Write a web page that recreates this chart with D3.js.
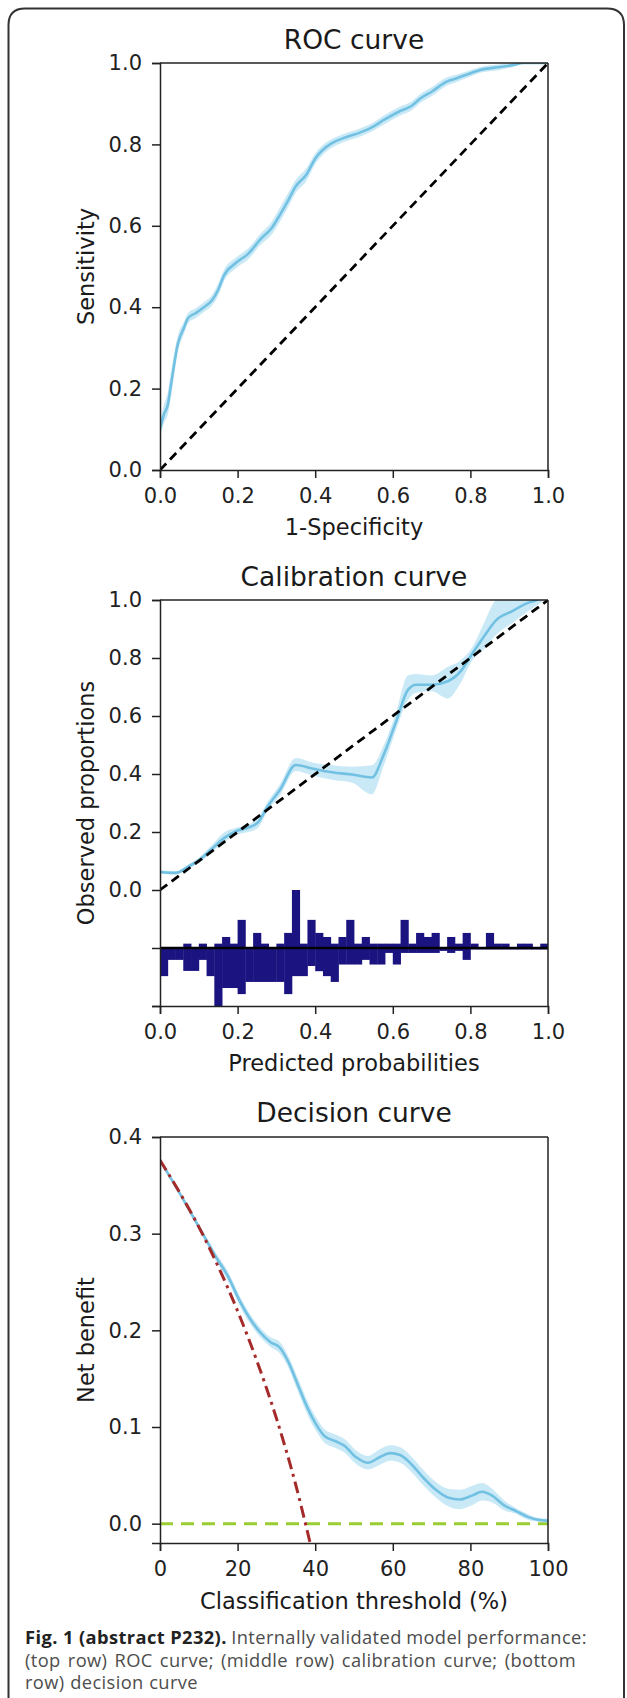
<!DOCTYPE html>
<html>
<head>
<meta charset="utf-8">
<script src="https://cdn.jsdelivr.net/npm/d3@7"></script>
<style>
  html, body { margin: 0; padding: 0; background: #fff; }
  svg { display: block; }
  .tick text { font-family: "DejaVu Sans", sans-serif; font-size: 21px; fill: #222; }
  .domain, .tick line { stroke: #222; stroke-width: 1.5; }
</style>
</head>
<body>
<svg id="chart" width="627" height="1698"></svg>
<script>
// ---------------- DATA ----------------
// ROC curve (1-Specificity vs Sensitivity)
const rocX  = [0,0.01,0.02,0.03,0.046,0.062,0.072,0.093,0.113,0.134,0.15,0.165,0.196,0.227,0.258,0.289,0.309,0.33,0.35,0.376,0.402,0.418,0.443,0.474,0.515,0.546,0.577,0.619,0.649,0.67,0.701,0.74,0.763,0.804,0.825,0.876,0.91,0.936,1.0];
const rocY  = [0.10,0.136,0.16,0.22,0.31,0.35,0.373,0.386,0.40,0.417,0.443,0.478,0.509,0.531,0.566,0.596,0.627,0.662,0.697,0.724,0.768,0.785,0.803,0.816,0.829,0.842,0.86,0.882,0.895,0.912,0.93,0.955,0.962,0.976,0.983,0.99,0.995,1.0,1.0];
const rocHi = [0.12,0.16,0.19,0.25,0.33,0.365,0.385,0.398,0.412,0.43,0.458,0.492,0.522,0.545,0.58,0.612,0.645,0.68,0.713,0.74,0.781,0.797,0.813,0.826,0.839,0.852,0.871,0.893,0.906,0.923,0.941,0.965,0.971,0.984,0.99,0.997,1.0,1.0,1.0];
const rocLo = [0.08,0.115,0.135,0.19,0.29,0.335,0.36,0.374,0.388,0.404,0.428,0.464,0.496,0.517,0.552,0.58,0.61,0.645,0.681,0.708,0.754,0.773,0.792,0.806,0.819,0.832,0.849,0.871,0.884,0.901,0.919,0.945,0.953,0.968,0.976,0.983,0.99,0.998,1.0];
const refX = [0, 1];
const refY = [0, 1];

// Calibration curve
const calX  = [0,0.041,0.072,0.103,0.134,0.165,0.196,0.227,0.253,0.278,0.309,0.35,0.392,0.443,0.495,0.546,0.577,0.608,0.639,0.66,0.70,0.742,0.773,0.804,0.835,0.866,0.907,0.948,0.97,1.0];
const calY  = [0.062,0.059,0.08,0.105,0.142,0.179,0.203,0.215,0.234,0.289,0.345,0.431,0.419,0.406,0.398,0.388,0.468,0.579,0.69,0.708,0.708,0.72,0.751,0.813,0.874,0.93,0.961,0.99,1.0,1.03];
const calHi = [0.068,0.065,0.088,0.115,0.155,0.198,0.215,0.225,0.25,0.305,0.365,0.455,0.44,0.43,0.425,0.43,0.5,0.61,0.74,0.745,0.74,0.77,0.79,0.835,0.92,1.0,1.02,1.03,1.04,1.06];
const calLo = [0.056,0.053,0.072,0.095,0.13,0.165,0.19,0.2,0.215,0.275,0.325,0.41,0.395,0.38,0.37,0.33,0.43,0.55,0.655,0.68,0.685,0.66,0.71,0.79,0.83,0.88,0.92,0.96,0.98,1.01];
// histogram of predicted probabilities (bin width 0.02), heights in axis units
const histBinWidth = 0.02;
const histUp   = [0,0,0,0.015,0,0.015,0,0.015,0.038,0.015,0.097,0,0.052,0.015,0,0.015,0.052,0.2,0.015,0.097,0.052,0.038,0.015,0.038,0.097,0.015,0.038,0.015,0.015,0.015,0.015,0.097,0.015,0.052,0.038,0.052,0,0.038,0.015,0.052,0.015,0,0.052,0.015,0.015,0,0.015,0.015,0,0.015];
const histDown = [0.097,0.041,0.041,0.079,0.079,0.041,0.097,0.2,0.138,0.138,0.159,0.117,0.117,0.117,0.117,0.117,0.159,0.097,0.097,0.062,0.08,0.097,0.117,0.057,0.057,0.057,0.041,0.057,0.057,0.017,0.057,0.017,0.017,0.017,0.017,0.017,0.01,0.017,0.01,0.041,0.005,0.005,0.005,0.005,0.005,0.005,0.005,0.005,0.005,0.005];
const histBase = -0.2;

// Decision curve (threshold %, net benefit)
const decX  = [0,5.2,10.3,14.4,17.5,20.6,23.2,25.8,28.4,30.9,33,35.6,38.1,40.2,42.3,45.4,47.4,50.5,53.6,56.7,59.3,61.9,64.9,68,71.1,74.2,77.3,80.4,83,85.6,88.7,91.8,94.8,97.4,100];
const decY  = [0.376,0.341,0.305,0.276,0.256,0.230,0.212,0.198,0.188,0.182,0.168,0.143,0.119,0.103,0.091,0.085,0.081,0.069,0.063,0.069,0.073,0.071,0.061,0.047,0.035,0.027,0.025,0.029,0.033,0.029,0.019,0.013,0.007,0.004,0.003];
const decHi = [0.377,0.343,0.308,0.28,0.261,0.235,0.217,0.203,0.193,0.188,0.174,0.15,0.126,0.11,0.098,0.092,0.088,0.076,0.07,0.077,0.081,0.079,0.069,0.055,0.043,0.036,0.035,0.039,0.042,0.036,0.024,0.016,0.01,0.006,0.005];
const decLo = [0.375,0.339,0.302,0.272,0.251,0.225,0.207,0.193,0.183,0.176,0.162,0.136,0.112,0.096,0.084,0.078,0.074,0.062,0.056,0.061,0.065,0.063,0.053,0.039,0.027,0.018,0.015,0.019,0.024,0.022,0.014,0.01,0.004,0.002,0.001];
const allX  = [0,5,10,15,20,25,30,35,37.5,39];
const allY  = [0.376,0.343,0.307,0.266,0.22,0.168,0.109,0.04,0,-0.025];
const noneX = [0, 100];
const noneY = [0, 0];

// Tick labels
const unitTicks = [0, 0.2, 0.4, 0.6, 0.8, 1.0];
const calYTicks = [-0.4, -0.2, 0, 0.2, 0.4, 0.6, 0.8, 1.0];
const decXTicks = [0, 20, 40, 60, 80, 100];
const decYTicks = [0, 0.1, 0.2, 0.3, 0.4];

// Texts
const titles = ["ROC curve", "Calibration curve", "Decision curve"];
const xLabels = ["1-Specificity", "Predicted probabilities", "Classification threshold (%)"];
const yLabels = ["Sensitivity", "Observed proportions", "Net benefit"];
const captionBold = "Fig. 1 (abstract P232).";
const captionLines = [
  "Internally validated model performance:",
  "(top row) ROC curve; (middle row) calibration curve; (bottom",
  "row) decision curve"
];

// ---------------- DRAWING ----------------
const svg = d3.select("#chart");
const LINE = "#72c1e3", BAND = "#87ceeb";
const AX_L = 160, AX_R = 548;
const FONT = "DejaVu Sans, sans-serif";

// frame (open at the bottom)
svg.append("path")
  .attr("d", "M8.5,1698 L8.5,25 Q8.5,8.5 25,8.5 L607,8.5 Q624,8.5 624,25 L624,1698")
  .attr("fill", "none").attr("stroke", "#333").attr("stroke-width", 2);

function zipPts(xs, ys) { return xs.map((x, i) => [x, ys[i]]); }

function panel(cfg) {
  const g = svg.append("g");
  const x = d3.scaleLinear().domain(cfg.xDomain).range([AX_L, AX_R]);
  const y = d3.scaleLinear().domain(cfg.yDomain).range([cfg.bottom, cfg.top]);
  const clipId = "clip" + cfg.id;
  svg.append("clipPath").attr("id", clipId).append("rect")
    .attr("x", AX_L).attr("y", cfg.top).attr("width", AX_R - AX_L).attr("height", cfg.bottom - cfg.top);
  const plot = g.append("g").attr("clip-path", `url(#${clipId})`);

  g.append("g").attr("transform", `translate(0,${cfg.bottom})`)
    .call(d3.axisBottom(x).tickValues(cfg.xTicks).tickFormat(cfg.xFmt).tickSize(8).tickPadding(10.5));
  g.append("g").attr("transform", `translate(${AX_L},0)`)
    .call(d3.axisLeft(y).tickValues(cfg.yTicks).tickFormat(cfg.yFmt).tickSize(8).tickPadding(10));
  g.append("line").attr("x1", AX_L).attr("x2", AX_R).attr("y1", cfg.top).attr("y2", cfg.top)
    .attr("stroke", "#222").attr("stroke-width", 1.5);
  g.append("line").attr("x1", AX_R).attr("x2", AX_R).attr("y1", cfg.top).attr("y2", cfg.bottom)
    .attr("stroke", "#222").attr("stroke-width", 1.5);

  g.append("text").attr("x", (AX_L + AX_R) / 2).attr("y", cfg.titleY)
    .attr("text-anchor", "middle").attr("font-family", FONT).attr("font-size", 26.5).attr("fill", "#1a1a1a")
    .text(cfg.title);
  g.append("text").attr("x", (AX_L + AX_R) / 2).attr("y", cfg.xLabelY)
    .attr("text-anchor", "middle").attr("font-family", FONT).attr("font-size", 22.5).attr("fill", "#1a1a1a")
    .text(cfg.xLabel);
  g.append("text").attr("transform", `translate(94,${(cfg.top + cfg.bottom) / 2}) rotate(-90)`)
    .attr("text-anchor", "middle").attr("font-family", FONT).attr("font-size", 22.5).attr("fill", "#1a1a1a")
    .text(cfg.yLabel);
  return { g, plot, x, y };
}

// ---- ROC ----
{
  const p = panel({ id: 1, xDomain: [0, 1], yDomain: [0, 1], top: 63, bottom: 470,
    xTicks: unitTicks, yTicks: unitTicks, xFmt: d3.format(".1f"), yFmt: d3.format(".1f"),
    title: titles[0], titleY: 49, xLabel: xLabels[0], xLabelY: 535, yLabel: yLabels[0] });
  const band = d3.area().x(d => p.x(d[0])).y0(d => p.y(d[1])).y1(d => p.y(d[2])).curve(d3.curveMonotoneX);
  p.plot.append("path").datum(rocX.map((v, i) => [v, rocLo[i], rocHi[i]]))
    .attr("d", band).attr("fill", BAND).attr("opacity", 0.45);
  p.plot.append("path").datum(zipPts(rocX, rocY))
    .attr("d", d3.line().x(d => p.x(d[0])).y(d => p.y(d[1])).curve(d3.curveMonotoneX))
    .attr("fill", "none").attr("stroke", LINE).attr("stroke-width", 2.6);
  p.plot.append("path").datum(zipPts(refX, refY))
    .attr("d", d3.line().x(d => p.x(d[0])).y(d => p.y(d[1])))
    .attr("fill", "none").attr("stroke", "#000").attr("stroke-width", 2.8).attr("stroke-dasharray", "9,5.5");
}

// ---- Calibration ----
{
  const p = panel({ id: 2, xDomain: [0, 1], yDomain: [-0.4, 1.0], top: 600, bottom: 1006,
    xTicks: unitTicks, yTicks: calYTicks, xFmt: d3.format(".1f"),
    yFmt: d => (d < 0 ? "" : d3.format(".1f")(d)),
    title: titles[1], titleY: 586, xLabel: xLabels[1], xLabelY: 1071, yLabel: yLabels[1] });
  const bars = histUp.map((h, i) => ({ x0: i * histBinWidth, up: h, down: histDown[i] }));
  p.plot.selectAll(".hu").data(bars).enter().append("rect")
    .attr("x", d => p.x(d.x0)).attr("width", d => p.x(d.x0 + histBinWidth) - p.x(d.x0) + 0.4)
    .attr("y", d => p.y(histBase + d.up)).attr("height", d => p.y(histBase) - p.y(histBase + d.up))
    .attr("fill", "#1b1480");
  p.plot.selectAll(".hd").data(bars).enter().append("rect")
    .attr("x", d => p.x(d.x0)).attr("width", d => p.x(d.x0 + histBinWidth) - p.x(d.x0) + 0.4)
    .attr("y", p.y(histBase)).attr("height", d => p.y(histBase - d.down) - p.y(histBase))
    .attr("fill", "#1b1480");
  p.plot.append("line").attr("x1", p.x(0)).attr("x2", p.x(1)).attr("y1", p.y(histBase)).attr("y2", p.y(histBase))
    .attr("stroke", "#000").attr("stroke-width", 2.6);
  const band = d3.area().x(d => p.x(d[0])).y0(d => p.y(d[1])).y1(d => p.y(d[2])).curve(d3.curveMonotoneX);
  p.plot.append("path").datum(calX.map((v, i) => [v, calLo[i], calHi[i]]))
    .attr("d", band).attr("fill", BAND).attr("opacity", 0.45);
  p.plot.append("path").datum(zipPts(calX, calY))
    .attr("d", d3.line().x(d => p.x(d[0])).y(d => p.y(d[1])).curve(d3.curveMonotoneX))
    .attr("fill", "none").attr("stroke", LINE).attr("stroke-width", 2.6);
  p.plot.append("path").datum(zipPts(refX, refY))
    .attr("d", d3.line().x(d => p.x(d[0])).y(d => p.y(d[1])))
    .attr("fill", "none").attr("stroke", "#000").attr("stroke-width", 2.8).attr("stroke-dasharray", "9,5.5");
}

// ---- Decision ----
{
  const p = panel({ id: 3, xDomain: [0, 100], yDomain: [-0.02, 0.4], top: 1137, bottom: 1543,
    xTicks: decXTicks, yTicks: decYTicks, xFmt: d3.format("d"), yFmt: d3.format(".1f"),
    title: titles[2], titleY: 1122, xLabelY: 1609, xLabel: xLabels[2], yLabel: yLabels[2] });
  const band = d3.area().x(d => p.x(d[0])).y0(d => p.y(d[1])).y1(d => p.y(d[2])).curve(d3.curveMonotoneX);
  p.plot.append("path").datum(zipPts(noneX, noneY))
    .attr("d", d3.line().x(d => p.x(d[0])).y(d => p.y(d[1])))
    .attr("fill", "none").attr("stroke", "#9acd32").attr("stroke-width", 3).attr("stroke-dasharray", "13,8");
  p.plot.append("path").datum(decX.map((v, i) => [v, decLo[i], decHi[i]]))
    .attr("d", band).attr("fill", BAND).attr("opacity", 0.45);
  p.plot.append("path").datum(zipPts(decX, decY))
    .attr("d", d3.line().x(d => p.x(d[0])).y(d => p.y(d[1])).curve(d3.curveMonotoneX))
    .attr("fill", "none").attr("stroke", LINE).attr("stroke-width", 2.6);
  p.plot.append("path").datum(zipPts(allX, allY))
    .attr("d", d3.line().x(d => p.x(d[0])).y(d => p.y(d[1])).curve(d3.curveMonotoneX))
    .attr("fill", "none").attr("stroke", "#a52a2a").attr("stroke-width", 3).attr("stroke-dasharray", "12,5,3,5");
}

// ---- Caption (justified) ----
{
  const CF = "'Open Sans', 'Noto Sans', sans-serif", CS = 18.3;
  const left = 25;
  const lineBase = [1644, 1666.5, 1689];
  const lineRight = [587, 576, null];
  const cap = svg.append("g").attr("font-family", CF).attr("font-size", CS).attr("letter-spacing", "0.4px");
  captionLines.forEach((ln, li) => {
    const segs = [];
    if (li === 0) segs.push({ t: captionBold, bold: true });
    ln.split(" ").forEach(w => segs.push({ t: w, bold: false }));
    const nodes = segs.map(s => cap.append("text").attr("y", lineBase[li])
      .attr("font-weight", s.bold ? 700 : 400).attr("fill", s.bold ? "#222" : "#4d4d4d").text(s.t));
    const widths = nodes.map(n => n.node().getBBox().width);
    const total = d3.sum(widths);
    const gap = lineRight[li] == null ? CS * 0.3 : Math.max(CS * 0.22, (lineRight[li] - left - total) / (segs.length - 1));
    let xx = left;
    nodes.forEach((n, i) => { n.attr("x", xx); xx += widths[i] + gap; });
  });
}
</script>
</body>
</html>
